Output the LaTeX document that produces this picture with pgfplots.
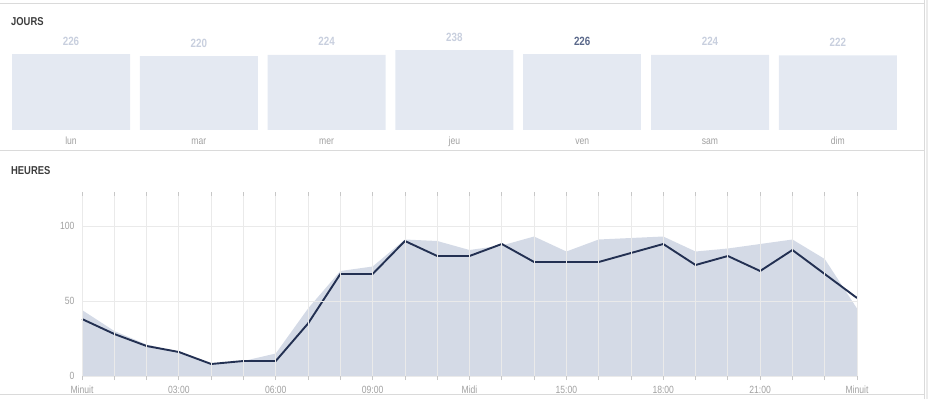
\documentclass[border=0pt]{standalone}
\usepackage{fontspec}
\setmainfont{Liberation Sans}[FakeStretch=0.82]
\usepackage{pgfplots}
\pgfplotsset{compat=1.18}
\definecolor{areac}{RGB}{201,209,224}
\definecolor{linec}{RGB}{35,48,82}
\definecolor{barc}{RGB}{228,233,242}
\definecolor{lblc}{RGB}{200,207,222}
\definecolor{lblv}{RGB}{90,104,138}
\definecolor{tickc}{RGB}{160,160,160}
\definecolor{gridc}{RGB}{234,234,234}
\definecolor{sepc}{RGB}{218,218,218}
\definecolor{headc}{RGB}{60,60,60}

\begin{document}
\begin{tikzpicture}[x=1bp,y=1bp]
\path[use as bounding box] (0,0) rectangle (928,399);
\draw[sepc, line width=1bp] (0,395) -- (924,395);
\draw[sepc, line width=1bp] (0,249) -- (924,249);
\draw[sepc, line width=1bp] (0,5) -- (924,5);
\draw[sepc, line width=1bp] (924,0) -- (924,399);
\fill[black!8] (925.5,0) rectangle (928,399);
\node[anchor=west, inner sep=0pt, font=\bfseries\fontsize{11.5}{13}\selectfont, text=headc] at (11,377.5) {JOURS};
\node[anchor=west, inner sep=0pt, font=\bfseries\fontsize{11.5}{13}\selectfont, text=headc] at (11,228.5) {HEURES};

\begin{axis}[at={(7.1bp,269bp)}, anchor=south west, scale only axis,
  width=894.6bp, height=80.6bp, xmin=-0.5, xmax=6.5, ymin=0, ymax=240,
  axis line style={draw=none}, ytick=\empty, xtick={0,...,6},
  xticklabels={lun,mar,mer,jeu,ven,sam,dim}, major tick length=0pt,
  xticklabel style={font=\fontsize{10.5}{12}\selectfont, text=tickc, anchor=base, yshift=-15bp},
  /pgf/number format/assume math mode=true,
  clip=false]
\addplot[ybar, bar width=118bp, fill=barc, draw=none,
  nodes near coords, every node near coord/.style={font=\bfseries\fontsize{12}{13}\selectfont, text=lblc, anchor=base, yshift=9bp}]
  coordinates {(0,226) (1,220) (2,224) (3,238) (5,224) (6,222)};
\addplot[ybar, bar width=118bp, fill=barc, draw=none,
  nodes near coords, every node near coord/.style={font=\bfseries\fontsize{12}{13}\selectfont, text=lblv, anchor=base, yshift=9bp}]
  coordinates {(4,226)};
\end{axis}

\begin{axis}[at={(82bp,23bp)}, anchor=south west, scale only axis,
  width=775bp, height=180bp, xmin=0, xmax=24, ymin=0, ymax=120,
  axis line style={draw=none},
  xtick={0,...,24},
  xticklabels={Minuit,,,03:00,,,06:00,,,09:00,,,Midi,,,15:00,,,18:00,,,21:00,,,Minuit},
  ytick={0,50,100},
  xmajorgrids, ymajorgrids, grid style={gridc, line width=0.8bp},
  tick align=outside, major tick length=4bp,
  x tick style={gridc!85!black, line width=0.8bp},
  y tick style={draw=none},
  /pgf/number format/assume math mode=true,
  tick label style={font=\fontsize{10.5}{12}\selectfont, text=tickc},
  xticklabel style={anchor=base, yshift=-13bp},
  axis on top,
  clip=false]
\addplot[fill=areac, fill opacity=0.8, draw=none] coordinates {
 (0,44) (1,30) (2,21) (3,16) (4,8) (5,10) (6,15) (7,45) (8,70) (9,73)
 (10,91) (11,90) (12,84) (13,87) (14,93) (15,83) (16,91) (17,92) (18,93)
 (19,83) (20,85) (21,88) (22,91) (23,78) (24,45)} \closedcycle;
\addplot[linec, line width=1.9bp, line join=round] coordinates {
 (0,38) (1,28) (2,20) (3,16) (4,8) (5,10) (6,10) (7,35) (8,68) (9,68)
 (10,90) (11,80) (12,80) (13,88) (14,76) (15,76) (16,76) (17,82) (18,88)
 (19,74) (20,80) (21,70) (22,84) (23,68) (24,52)};
\end{axis}
\end{tikzpicture}
\end{document}
